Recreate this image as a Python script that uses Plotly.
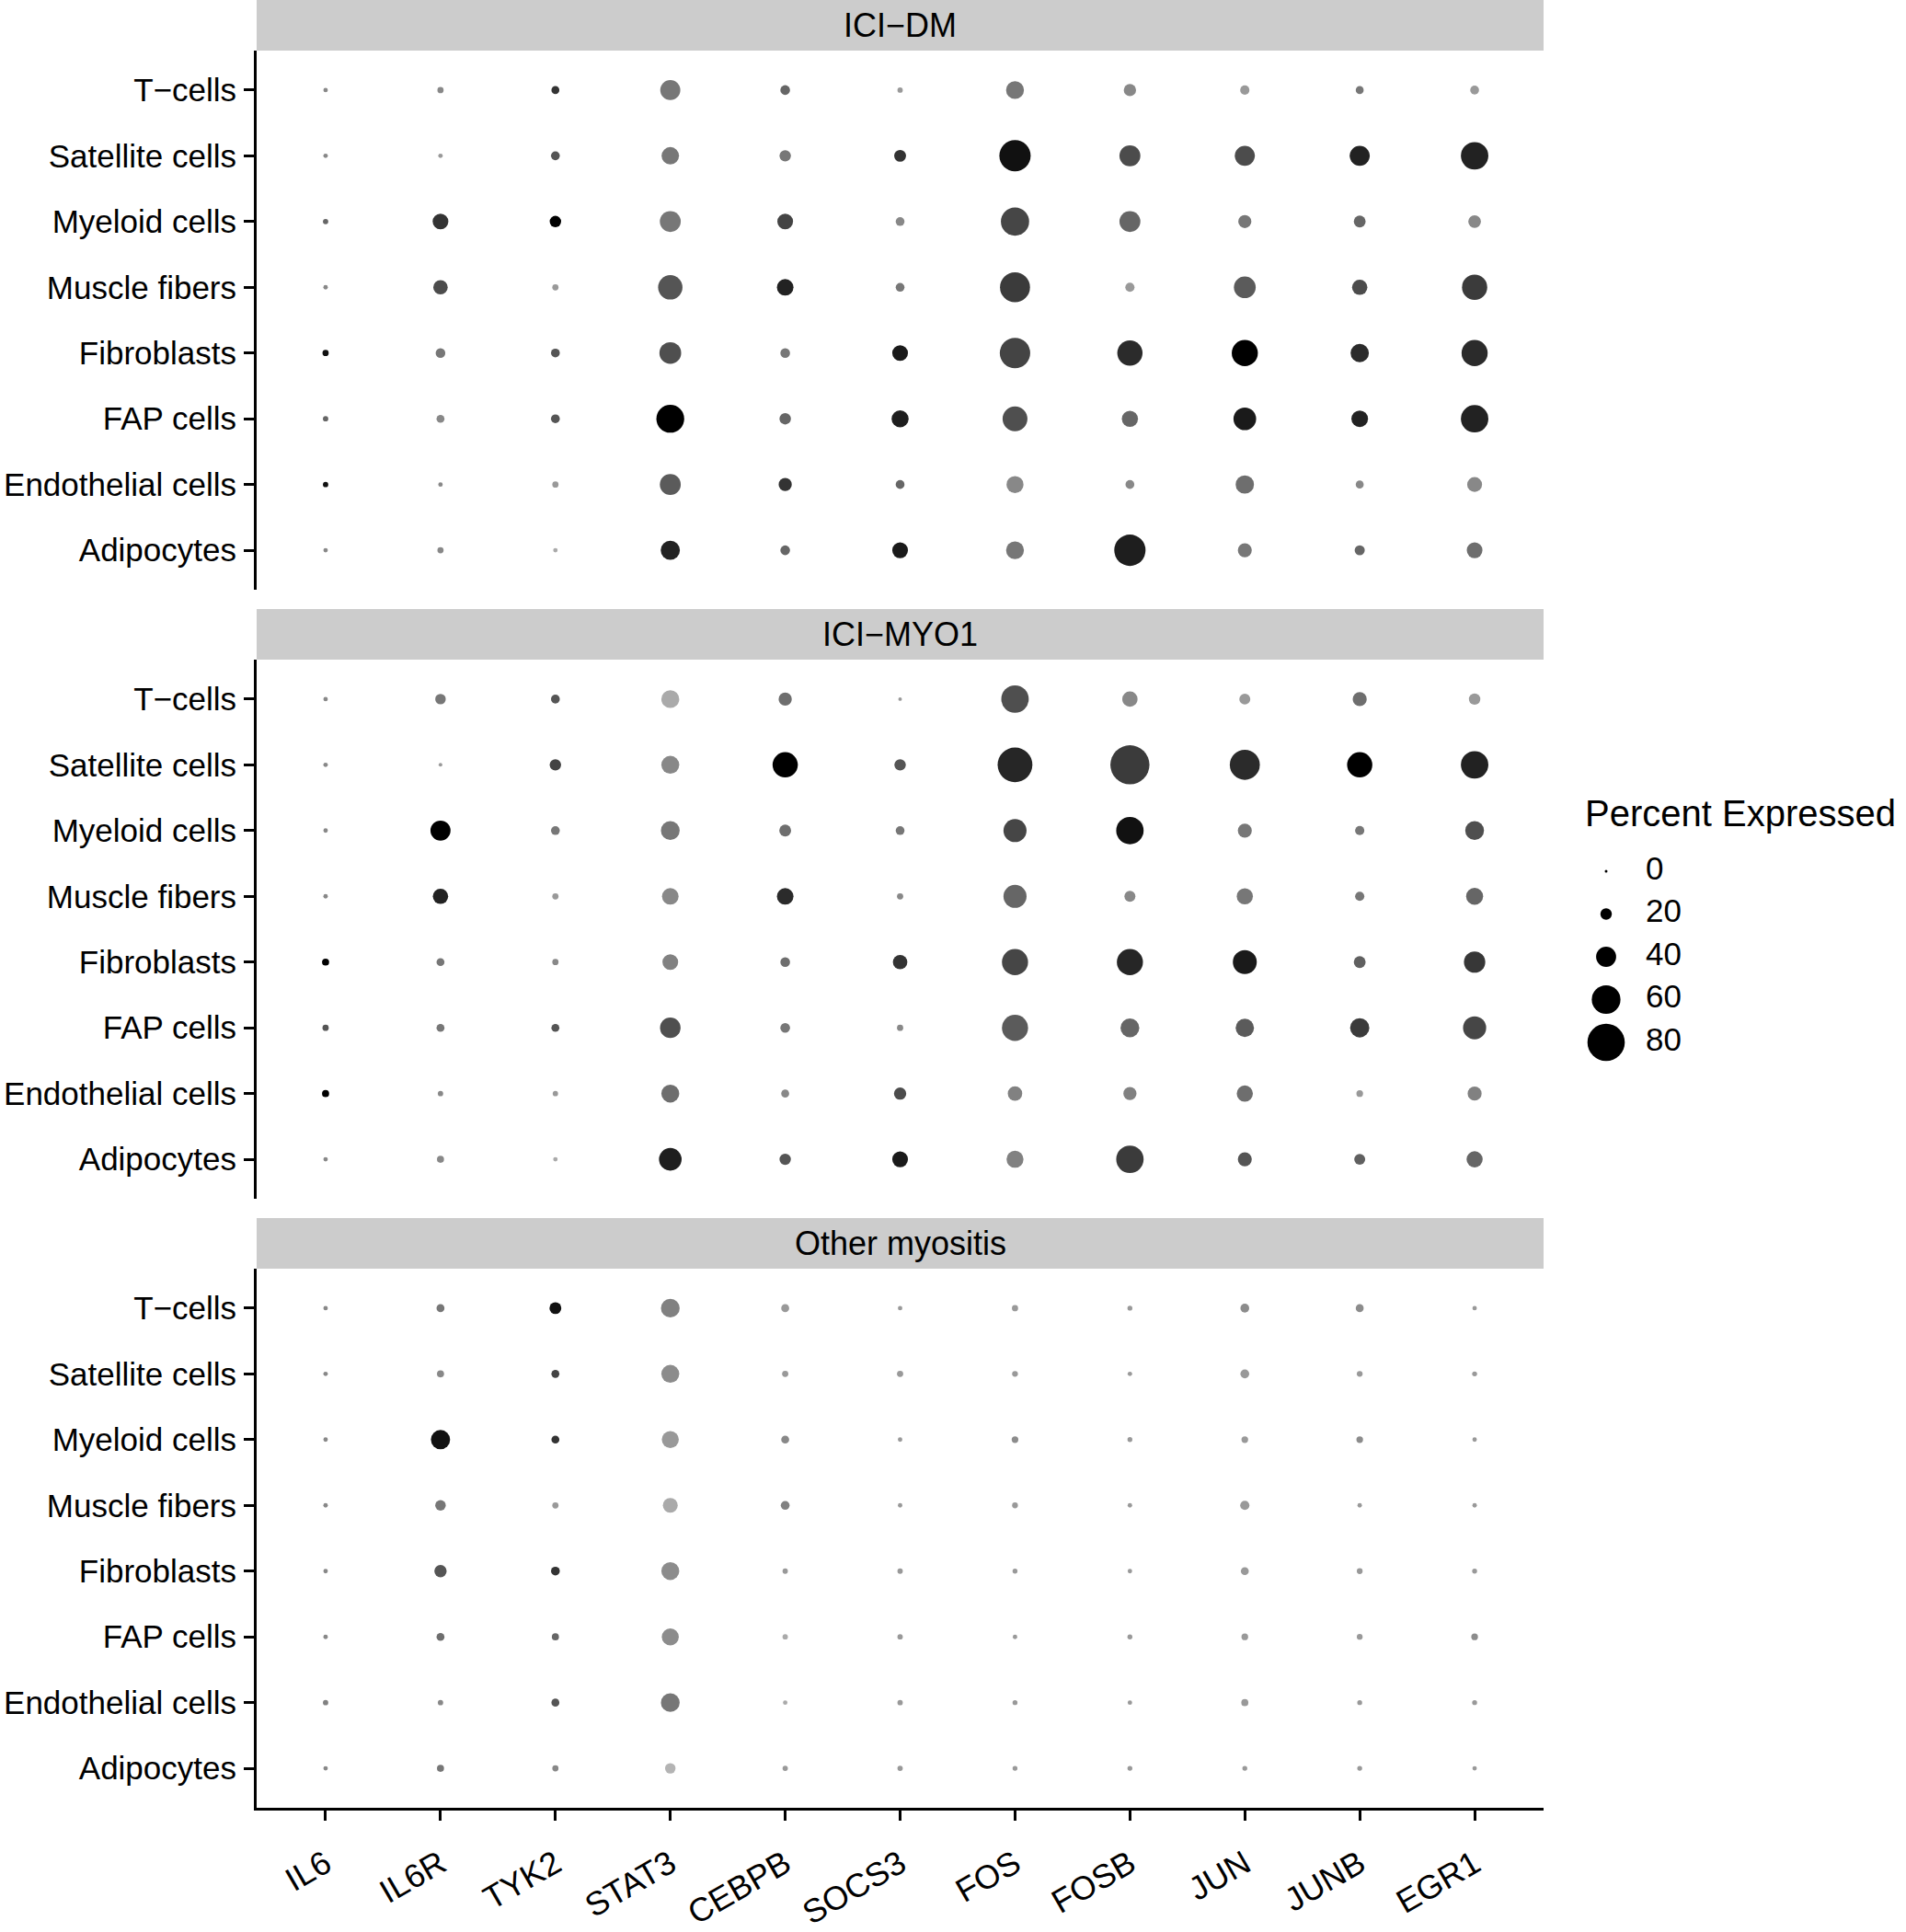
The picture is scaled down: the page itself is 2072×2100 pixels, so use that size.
import plotly.graph_objects as go

# ---------------- data ----------------
genes = ["IL6", "IL6R", "TYK2", "STAT3", "CEBPB", "SOCS3", "FOS", "FOSB", "JUN", "JUNB", "EGR1"]
cell_types = ["T\u2212cells", "Satellite cells", "Myeloid cells", "Muscle fibers",
              "Fibroblasts", "FAP cells", "Endothelial cells", "Adipocytes"]  # top -> bottom
panels = ["ICI\u2212DM", "ICI\u2212MYO1", "Other myositis"]

# percent expressed (rows = cell_types, cols = genes)
pct_ici_dm = [
    [4, 8, 12, 40, 16, 6, 35, 22, 15, 12, 14],
    [4, 4, 14, 34, 20, 21, 66, 42, 40, 40, 57],
    [6, 30, 20, 42, 30, 14, 59, 42, 24, 21, 23],
    [4, 27, 8, 50, 32, 14, 63, 15, 44, 29, 52],
    [8, 16, 14, 44, 16, 30, 64, 52, 54, 36, 54],
    [6, 12, 14, 58, 20, 33, 51, 31, 46, 32, 57],
    [6, 4, 8, 42, 24, 14, 33, 14, 36, 12, 28],
    [4, 8, 4, 38, 16, 30, 35, 66, 26, 17, 30],
]
pct_ici_myo1 = [
    [4, 18, 14, 35, 24, 2, 57, 29, 19, 26, 20],
    [4, 2, 20, 35, 52, 20, 74, 84, 63, 52, 57],
    [4, 40, 14, 37, 21, 14, 47, 57, 26, 15, 37],
    [4, 29, 8, 32, 32, 8, 47, 19, 31, 15, 33],
    [10, 12, 8, 30, 16, 27, 54, 54, 49, 21, 43],
    [8, 12, 12, 41, 16, 8, 54, 37, 36, 38, 47],
    [10, 6, 6, 35, 12, 22, 27, 24, 31, 9, 26],
    [4, 10, 4, 46, 20, 30, 33, 57, 26, 19, 31],
]
pct_other = [
    [4, 12, 21, 37, 12, 4, 8, 5, 14, 12, 4],
    [4, 10, 12, 35, 8, 8, 7, 4, 14, 7, 5],
    [4, 38, 12, 33, 12, 4, 9, 5, 9, 9, 4],
    [4, 18, 8, 28, 14, 4, 7, 4, 15, 4, 4],
    [4, 22, 14, 35, 6, 6, 5, 4, 12, 7, 5],
    [4, 12, 10, 33, 6, 6, 4, 5, 9, 7, 9],
    [6, 6, 12, 37, 4, 6, 5, 4, 10, 5, 5],
    [4, 10, 8, 18, 6, 6, 5, 5, 5, 5, 4],
]

# scaled average expression (0 = light grey, 1 = black)
exp_ici_dm = [
    [.28, .28, .73, .37, .46, .19, .37, .28, .19, .37, .19],
    [.28, .19, .55, .37, .37, .73, .91, .60, .60, .82, .82],
    [.46, .73, 1.0, .37, .64, .28, .63, .46, .37, .46, .28],
    [.28, .60, .19, .55, .82, .37, .69, .19, .52, .60, .69],
    [.91, .37, .55, .58, .37, .86, .64, .77, 1.0, .77, .77],
    [.46, .28, .55, 1.0, .46, .84, .58, .46, .86, .82, .82],
    [.91, .28, .19, .52, .73, .46, .28, .28, .42, .28, .28],
    [.28, .28, .10, .82, .46, .86, .37, .84, .37, .46, .42],
]
exp_ici_myo1 = [
    [.28, .37, .55, .10, .42, .19, .58, .28, .19, .42, .19],
    [.28, .19, .64, .28, 1.0, .55, .80, .69, .77, 1.0, .82],
    [.28, 1.0, .37, .37, .42, .37, .63, .91, .37, .37, .58],
    [.28, .82, .19, .28, .77, .28, .46, .28, .37, .37, .46],
    [1.0, .37, .28, .32, .42, .73, .63, .80, .86, .49, .71],
    [.55, .37, .55, .58, .37, .28, .52, .46, .52, .69, .63],
    [1.0, .28, .19, .42, .28, .60, .32, .32, .42, .19, .32],
    [.28, .28, .10, .84, .55, .86, .32, .69, .55, .49, .46],
]
exp_other = [
    [.28, .37, .91, .32, .19, .19, .19, .19, .26, .26, .19],
    [.28, .28, .64, .26, .19, .19, .19, .19, .19, .19, .19],
    [.28, .91, .73, .19, .28, .19, .26, .19, .19, .26, .19],
    [.28, .37, .19, .10, .32, .19, .19, .19, .19, .19, .19],
    [.28, .55, .73, .26, .19, .19, .19, .19, .19, .19, .19],
    [.28, .42, .46, .26, .10, .19, .19, .19, .19, .19, .26],
    [.32, .28, .55, .37, .10, .19, .19, .19, .19, .19, .19],
    [.28, .37, .28, .05, .19, .19, .19, .19, .19, .19, .19],
]

legend_values = [0, 20, 40, 60, 80]
legend_labels = ["0", "20", "40", "60", "80"]

pct_all = [pct_ici_dm, pct_ici_myo1, pct_other]
exp_all = [exp_ici_dm, exp_ici_myo1, exp_other]

# ---------------- styling / layout ----------------
W, H = 2072, 2100
FONT = "Liberation Sans, Arial, Helvetica, sans-serif"
COLORSCALE = [[0, "#bdbdbd"], [1, "#000000"]]


def dot_size(p):
    return 3 + 0.47 * p


def px_x(px):
    return px / W


def px_y(px):
    return 1 - px / H


x_left, x_right = 279, 1678
strip_h, plot_h, gap = 55, 586, 21
strip_tops = [i * (strip_h + plot_h + gap) for i in range(3)]

fig = go.Figure()
shapes, annotations = [], []
axis_names = ["2", "3", ""]  # panel 3 (bottom) uses the primary axes

for i, name in enumerate(panels):
    st = strip_tops[i]
    ptop = st + strip_h
    pbot = ptop + plot_h
    suffix = axis_names[i]
    xs, ys, ss, cs = [], [], [], []
    for r, ct in enumerate(cell_types):
        for c, g in enumerate(genes):
            xs.append(g)
            ys.append(ct)
            ss.append(dot_size(pct_all[i][r][c]))
            cs.append(exp_all[i][r][c])
    fig.add_trace(go.Scatter(
        x=xs, y=ys, mode="markers",
        marker=dict(size=ss, color=cs, colorscale=COLORSCALE, cmin=0, cmax=1,
                    showscale=False, line=dict(width=0), opacity=1),
        xaxis="x" + suffix, yaxis="y" + suffix, showlegend=False,
        cliponaxis=False, hoverinfo="x+y",
    ))
    bottom = (i == 2)
    xa = dict(
        domain=[px_x(x_left), px_x(x_right)],
        type="category", categoryorder="array", categoryarray=genes,
        range=[-0.6, len(genes) - 0.4],
        showgrid=False, zeroline=False, automargin=False,
        anchor="y" + suffix,
        showline=bottom, linecolor="black", linewidth=3,
        ticks="outside" if bottom else "", ticklen=11, tickwidth=3, tickcolor="black",
        showticklabels=bottom, tickangle=-30,
        tickfont=dict(family=FONT, size=36, color="black"),
        ticklabelstandoff=12,
    )
    ya = dict(
        domain=[px_y(pbot), px_y(ptop)],
        type="category", categoryorder="array", categoryarray=cell_types[::-1],
        range=[-0.6, len(cell_types) - 0.4],
        showgrid=False, zeroline=False, automargin=False,
        anchor="x" + suffix,
        showline=True, linecolor="black", linewidth=3,
        ticks="outside", ticklen=11, tickwidth=3, tickcolor="black",
        tickfont=dict(family=FONT, size=35, color="black"),
        ticklabelstandoff=1,
    )
    fig.layout["xaxis" + suffix] = xa
    fig.layout["yaxis" + suffix] = ya
    shapes.append(dict(type="rect", xref="paper", yref="paper",
                       x0=px_x(x_left), x1=px_x(x_right), y0=px_y(ptop), y1=px_y(st),
                       fillcolor="#cccccc", line=dict(width=0), layer="below"))
    annotations.append(dict(xref="paper", yref="paper",
                            x=px_x((x_left + x_right) / 2), y=px_y(st + strip_h / 2),
                            text=name, showarrow=False, xanchor="center", yanchor="middle",
                            font=dict(family=FONT, size=36, color="black")))

# ---------------- size legend (drawn with its own axes) ----------------
leg_top, leg_step = 947, 46.5
fig.add_trace(go.Scatter(
    x=[0] * len(legend_values), y=legend_labels, mode="markers",
    marker=dict(size=[dot_size(v) for v in legend_values], color="#000000",
                opacity=1, line=dict(width=0)),
    xaxis="x4", yaxis="y4", showlegend=False, cliponaxis=False, hoverinfo="skip",
))
fig.add_trace(go.Scatter(
    x=[1] * len(legend_values), y=legend_labels, mode="text", text=legend_labels,
    textposition="middle right", textfont=dict(family=FONT, size=35, color="black"),
    xaxis="x4", yaxis="y4", showlegend=False, cliponaxis=False, hoverinfo="skip",
))
fig.layout["xaxis4"] = dict(domain=[px_x(1746), px_x(1789)], range=[0, 1], visible=False,
                            anchor="y4", automargin=False)
fig.layout["yaxis4"] = dict(domain=[px_y(leg_top + 4.5 * leg_step), px_y(leg_top - 0.5 * leg_step)],
                            type="category", categoryorder="array",
                            categoryarray=legend_labels[::-1], automargin=False,
                            range=[-0.5, len(legend_labels) - 0.5], visible=False, anchor="x4")
annotations.append(dict(xref="paper", yref="paper", x=px_x(1721), y=px_y(884),
                        text="Percent Expressed", showarrow=False,
                        xanchor="left", yanchor="middle",
                        font=dict(family=FONT, size=40, color="black")))

fig.update_layout(
    width=W, height=H, margin=dict(l=0, r=0, t=0, b=0, autoexpand=False),
    paper_bgcolor="white", plot_bgcolor="white",
    shapes=shapes, annotations=annotations, showlegend=False,
    font=dict(family=FONT, color="black"),
)

post = (
    "document.documentElement.style.overflow='hidden';"
    "document.body.style.margin='0px';"
    "document.body.style.overflow='hidden';"
)

fig.write_html("out.html", config={"displayModeBar": False}, post_script=post)
